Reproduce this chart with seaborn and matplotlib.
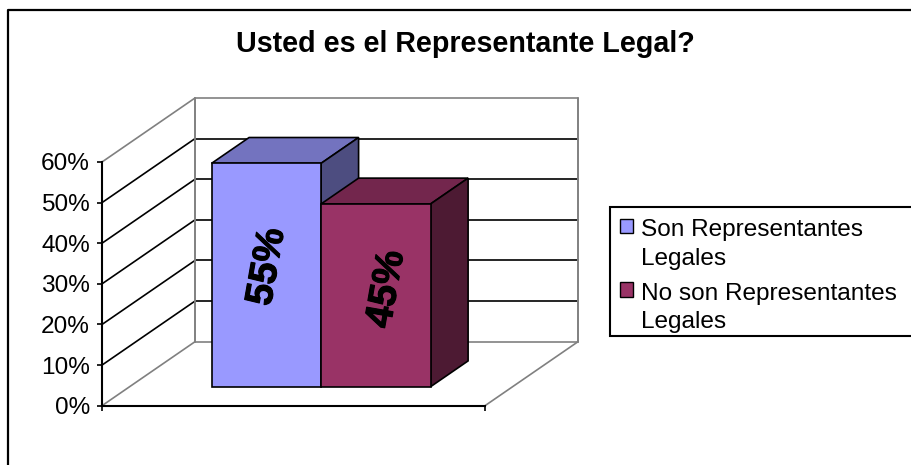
import matplotlib
matplotlib.use('Agg')
import matplotlib.pyplot as plt
import matplotlib.patheffects as pe
import pandas as pd
import seaborn as sns
from matplotlib.lines import Line2D
from matplotlib.patches import Polygon, Patch, Rectangle

title = 'Usted es el Representante Legal?'
categories = ['Son Representantes\nLegales', 'No son Representantes\nLegales']
values = [0.55, 0.45]
value_labels = ['55%', '45%']
y_ticks = [0, 0.1, 0.2, 0.3, 0.4, 0.5, 0.6]
y_tick_labels = ['0%', '10%', '20%', '30%', '40%', '50%', '60%']
front_colors = ['#9999FF', '#993366']
top_colors = ['#7373BF', '#73264D']
side_colors = ['#4D4D80', '#4D1A33']

W, H = 911, 465
sns.set_theme(style='white')
plt.rcParams['font.family'] = ['Liberation Sans', 'DejaVu Sans']

fig = plt.figure(figsize=(W / 100, H / 100), dpi=100, facecolor='white')
ax = fig.add_axes([102 / W, (H - 405.7) / H, 383 / W, 243.7 / H])

df = pd.DataFrame({'group': [''] * 2, 'category': categories, 'value': values})
sns.barplot(data=df, x='group', y='value', hue='category', hue_order=categories,
            palette=front_colors, width=219 / 383, dodge=True, legend=False,
            edgecolor='black', linewidth=1.2, saturation=1, ax=ax)
ax.set_xlim(-0.5, 0.5)
ax.set_ylim(0, 0.6)
ax.set_xlabel('')
ax.set_ylabel('')

# depth of the fake 3d box, in data units
depth_x = 93 / 383
depth_y = 64 / 243.7 * 0.6
bar_front = 0.297
bar_back = 0.70


def shift(x, y, d):
    return (x + depth_x * d, y + depth_y * d)


GRAY = '#808080'


def wall_line(p1, p2, color, lw=1.2):
    ax.add_line(Line2D([p1[0], p2[0]], [p1[1], p2[1]], color=color, lw=lw,
                       clip_on=False, zorder=1))


# back wall, side wall and floor
for t in y_ticks:
    color = GRAY if t in (0, 0.6) else 'black'
    wall_line((-0.5, t), shift(-0.5, t, 1), color)
    wall_line(shift(-0.5, t, 1), shift(0.5, t, 1), color)
wall_line(shift(-0.5, 0, 1), shift(-0.5, 0.6, 1), GRAY, 1.4)
wall_line(shift(0.5, 0, 1), shift(0.5, 0.6, 1), GRAY, 1.4)
wall_line((0.5, 0), shift(0.5, 0, 1), GRAY)

# bars: the front faces come from seaborn, sides and tops are built from them
bars = [b for b in ax.patches]
for i, bar in enumerate(bars):
    bar.set_x(bar.get_x() + depth_x * bar_front)
    bar.set_y(depth_y * bar_front)
    bar.set_clip_on(False)
    bar.set_zorder(3 + 3 * i)
    x0 = bar.get_x()
    x1 = x0 + bar.get_width()
    y0 = bar.get_y()
    y1 = y0 + bar.get_height()
    d = bar_back - bar_front
    top = Polygon([(x0, y1), (x1, y1), shift(x1, y1, d), shift(x0, y1, d)],
                  facecolor=top_colors[i], edgecolor='black', lw=1.2,
                  clip_on=False, zorder=2 + 3 * i)
    side = Polygon([(x1, y0), (x1, y1), shift(x1, y1, d), shift(x1, y0, d)],
                   facecolor=side_colors[i], edgecolor='black', lw=1.2,
                   clip_on=False, zorder=2 + 3 * i)
    ax.add_patch(top)
    ax.add_patch(side)

label_nudge = [(1 / 383, 0.02), (11 / 383, 0.015)]
for bar, label, nudge in zip(bars, value_labels, label_nudge):
    ax.text(bar.get_x() + bar.get_width() / 2 + nudge[0],
            bar.get_y() + bar.get_height() / 2 + nudge[1], label,
            rotation=80, ha='center', va='center', fontsize=28,
            fontweight='bold', color='black', zorder=20,
            path_effects=[pe.withStroke(linewidth=0.8, foreground='black')])

for side_name in ['top', 'right']:
    ax.spines[side_name].set_visible(False)
for side_name in ['left', 'bottom']:
    ax.spines[side_name].set_visible(True)
    ax.spines[side_name].set_color('black')
    ax.spines[side_name].set_linewidth(1.5)
    ax.spines[side_name].set_zorder(2)
ax.patch.set_alpha(0)

ax.set_yticks(y_ticks)
ax.set_yticklabels(y_tick_labels)
ax.set_xticks([-0.5, 0.5])
ax.set_xticklabels(['', ''])
ax.tick_params(axis='both', which='major', left=True, bottom=True, length=3.6,
               width=1.2, color='black', pad=5, labelsize=17.6, labelcolor='black')

fig.text(465 / W, 1 - 44 / H, title, ha='center', va='center', fontsize=20.6,
         fontweight='bold', color='black')

# outer chart border, the right and bottom sides fall outside the picture
fig.add_artist(Line2D([8 / W, 8 / W, 1], [0, 1 - 10 / H, 1 - 10 / H], color='black', lw=1.6))

# legend box runs off the right edge of the picture
fig.add_artist(Rectangle((610 / W, 1 - 336 / H), 320 / W, 129 / H, transform=fig.transFigure,
                         facecolor='white', edgecolor='black', lw=1.5))
handles = [Patch(facecolor=c, edgecolor='black', lw=1) for c in front_colors]
leg = fig.legend(handles, categories, loc='upper left',
                 bbox_to_anchor=(610 / W, 1 - 209 / H), bbox_transform=fig.transFigure,
                 fontsize=17.6, frameon=False, borderaxespad=0, borderpad=0.41, labelspacing=0.53,
                 handlelength=0.55, handleheight=0.55, handletextpad=0.29,
                 labelcolor='black')
for t in leg.get_texts():
    t.set_linespacing(1.39)
# swatch sits beside the first line of each entry
for h in leg.legend_handles:
    h.set_y(h.get_y() + 13)

fig.savefig('out.png', dpi=100, facecolor='white')
